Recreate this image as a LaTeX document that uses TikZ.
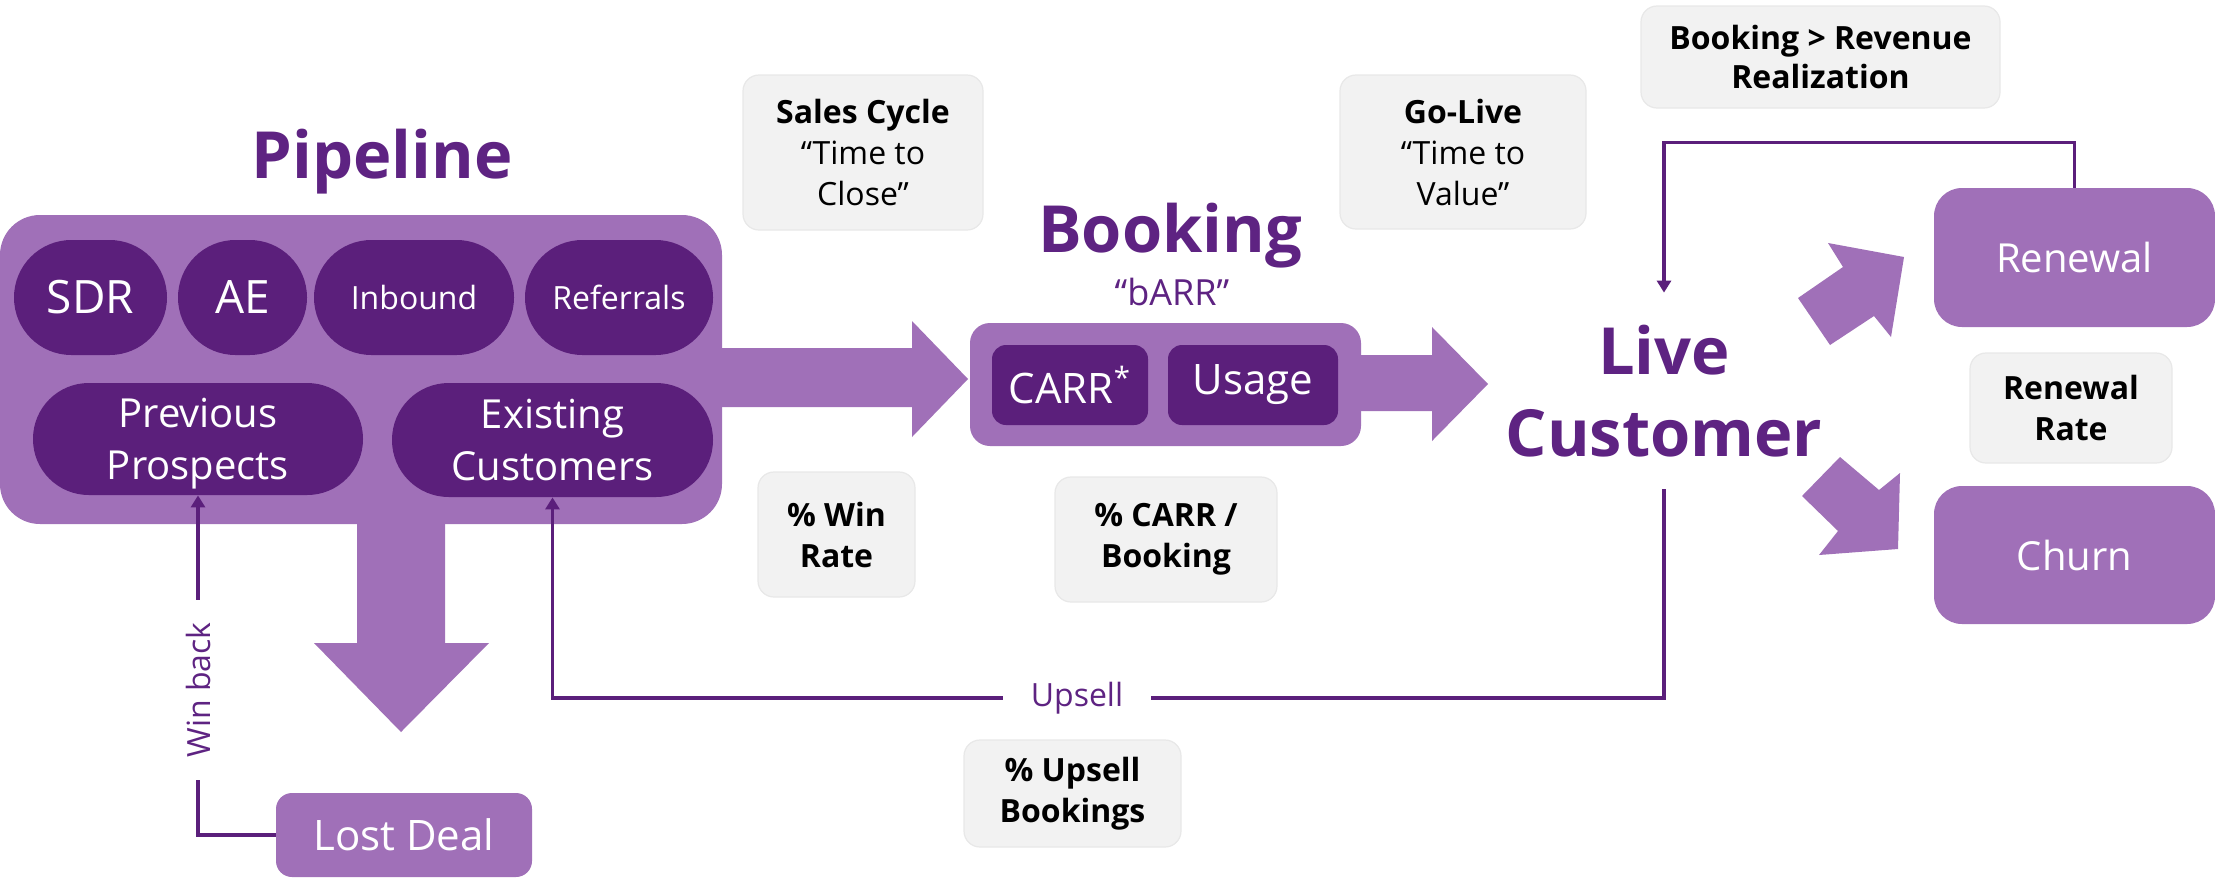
\documentclass[tikz,border=0pt]{standalone}
\usepackage{fontspec}
\setmainfont{Open Sans}
\usetikzlibrary{arrows.meta,calc}
\definecolor{lightpurple}{HTML}{A070B8}
\definecolor{darkpurple}{HTML}{5B1F7B}
\definecolor{titlepurple}{HTML}{5E2382}
\definecolor{metricgray}{HTML}{F2F2F2}
\definecolor{metricedge}{HTML}{E8E8E8}
\begin{document}
\begin{tikzpicture}[x=0.5pt,y=-0.5pt]
\tikzset{
  panel/.style={fill=lightpurple, inner sep=0pt},
  pill/.style={fill=darkpurple, text=white, inner sep=0pt, align=center},
  metric/.style={fill=metricgray, draw=metricedge, line width=0.6pt, rounded corners=8pt,
    inner sep=0pt, align=center, font=\bfseries\fontsize{16}{20.5}\selectfont},
  headline/.style={text=titlepurple, inner sep=0pt, font=\bfseries\fontsize{32.5}{41}\selectfont},
  flowline/.style={draw=darkpurple, line width=1.6pt, -{Triangle[length=6pt,width=7pt]}},
  linklabel/.style={fill=white, text=titlepurple, font=\fontsize{16}{18}\selectfont},
  fatarrow/.style={fill=lightpurple},
}
% canvas
\fill[white] (0,0) rectangle (2215,879);
\useasboundingbox (0,0) rectangle (2215,879);

% broad flow arrows
\fill[fatarrow] (700,348) -- (912,348) -- (912,321) -- (968,379) -- (912,437) -- (912,407) -- (700,407) -- cycle;
\fill[fatarrow] (1340,355) -- (1432,355) -- (1432,327) -- (1488,384) -- (1432,441) -- (1432,411) -- (1340,411) -- cycle;
\fill[fatarrow] (357,500) -- (357,643) -- (314,643) -- (401,732) -- (489,643) -- (445,643) -- (445,500) -- cycle;
\fill[fatarrow] (1798,298) -- (1843,267) -- (1828,243) -- (1904,257) -- (1891,337) -- (1874,316) -- (1830,345) -- cycle;
\fill[fatarrow] (1840,457) -- (1879,490) -- (1900,473) -- (1898,549) -- (1819,555) -- (1838,531) -- (1802,496) -- cycle;

% pipeline
\node[headline, anchor=base] (pipetitle) at (382,178) {Pipeline};
\node[panel, rounded corners=20pt, minimum width=361pt, minimum height=154.5pt] (pipebox) at (361,369.5) {};
\node[pill, rounded corners=28.7pt, minimum width=76.5pt, minimum height=57.5pt, font=\fontsize{23}{27}\selectfont] (sdr) at (90.5,297.5) {SDR};
\node[pill, rounded corners=28.7pt, minimum width=64.5pt, minimum height=57.5pt, font=\fontsize{23}{27}\selectfont] (ae) at (242.5,297.5) {AE};
\node[pill, rounded corners=28.7pt, minimum width=100pt, minimum height=57.5pt, font=\fontsize{16}{20}\selectfont] (inbound) at (414,297.5) {Inbound};
\node[pill, rounded corners=28.7pt, minimum width=94pt, minimum height=57.5pt, font=\fontsize{16}{20}\selectfont] (referrals) at (619,297.5) {Referrals};
\node[pill, rounded corners=27.9pt, minimum width=165pt, minimum height=56pt, text depth=0pt, font=\fontsize{20}{26}\selectfont] (prev) at (198,439) {Previous\\Prospects};
\node[pill, rounded corners=28.4pt, minimum width=160.5pt, minimum height=57pt, text depth=0pt, font=\fontsize{20}{26}\selectfont] (exist) at (552.5,440) {Existing\\Customers};

% lost deal
\node[panel, rounded corners=8pt, text=white, minimum width=128pt, minimum height=42pt, font=\fontsize{21}{25}\selectfont] (lost) at (404,835) {Lost Deal};

% booking
\node[headline, anchor=base] (bookingtitle) at (1170,252) {Booking};
\node[anchor=base, text=titlepurple, inner sep=0pt, font=\fontsize{18}{22}\selectfont] (barr) at (1172,305) {“bARR”};
\node[panel, rounded corners=10pt, minimum width=195.5pt, minimum height=61.5pt] (bookbox) at (1165.5,384.5) {};
\node[pill, rounded corners=7pt, minimum width=78pt, minimum height=40pt, font=\fontsize{21}{25}\selectfont] (carr) at (1070,385) {CARR\textsuperscript{*}};
\node[pill, rounded corners=7pt, minimum width=85pt, minimum height=40pt, font=\fontsize{21}{25}\selectfont] (usage) at (1253,385) {Usage};

% live customer and outcomes
\node[headline, align=center, inner ysep=16pt] (live) at (1664,391) {Live\\Customer};
\node[panel, rounded corners=14pt, text=white, minimum width=140.5pt, minimum height=69.5pt, font=\fontsize{20}{24}\selectfont] (renewal) at (2074.5,257.5) {Renewal};
\node[panel, rounded corners=14pt, text=white, minimum width=140.5pt, minimum height=69pt, font=\fontsize{20}{24}\selectfont] (churn) at (2074.5,555) {Churn};

% metrics
\node[metric, minimum width=120pt, minimum height=77.5pt] (salescycle) at (863,152.5) {Sales Cycle\\\mdseries “Time to\\\mdseries Close”};
\node[metric, minimum width=123pt, minimum height=77pt] (golive) at (1463,152) {Go-Live\\\mdseries “Time to\\\mdseries Value”};
\node[metric, minimum width=78.5pt, minimum height=62.5pt] (winrate) at (836.5,534.5) {\% Win\\Rate};
\node[metric, minimum width=111pt, minimum height=62.5pt] (carrbooking) at (1166,539.5) {\% CARR /\\Booking};
\node[metric, minimum width=108.5pt, minimum height=53.5pt] (upsellbookings) at (1072.5,793.5) {\% Upsell\\Bookings};
\node[metric, minimum width=179.5pt, minimum height=51pt, font=\bfseries\fontsize{16}{19.5}\selectfont] (realization) at (1820.5,57) {Booking > Revenue\\Realization};
\node[metric, minimum width=101pt, minimum height=55pt] (renewalrate) at (2071,408) {Renewal\\Rate};

% feedback connectors
\draw[flowline] (lost.west) -| (prev.south);
\node[linklabel, rotate=90, inner xsep=11pt, inner ysep=1pt] (winback) at (198,690) {Win back};

\coordinate (upsellrow) at (0,698);
\draw[flowline] (live.south) -- (live.south |- upsellrow) -| (exist.south);
\node[linklabel, inner xsep=14pt, inner ysep=1pt] (upsell) at (1077,698) {Upsell};

\draw[flowline] (renewal.north) -- ++(0,-45) -| (live.north);
\end{tikzpicture}
\end{document}
